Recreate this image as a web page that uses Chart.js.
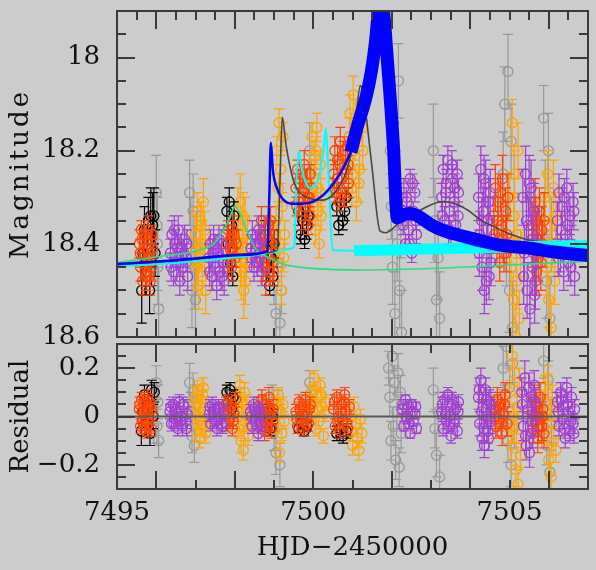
<!DOCTYPE html>
<html>
<head>
<meta charset="utf-8">
<script src="https://cdn.jsdelivr.net/npm/chart.js@4.4.0/dist/chart.umd.min.js"></script>
<style>
  html, body { margin: 0; padding: 0; background: #cccccc; }
  #wrap { position: relative; width: 596px; height: 570px; }
  #wrap canvas { position: absolute; left: 0; top: 0; }
</style>
</head>
<body>
<div id="wrap">
  <canvas id="lightcurve" width="596" height="570"></canvas>
  <canvas id="residuals" width="596" height="570"></canvas>
</div>
<script>
// photometry: [HJD-2450000, magnitude, error]
const magBlack = [
  [7495.63,18.50,0.07],[7495.66,18.42,0.06],[7495.70,18.37,0.05],[7495.73,18.46,0.05],[7495.77,18.40,0.04],[7495.80,18.35,0.05],
  [7495.83,18.50,0.05],[7495.86,18.34,0.06],[7495.88,18.44,0.05],[7495.91,18.36,0.07],[7495.94,18.34,0.06],[7495.97,18.42,0.05],
  [7497.80,18.33,0.03],[7497.83,18.40,0.03],[7497.86,18.31,0.03],[7497.89,18.44,0.03],[7497.92,18.36,0.03],[7497.95,18.47,0.02],[7497.98,18.34,0.03],
  [7498.77,18.38,0.03],[7498.81,18.45,0.03],[7498.85,18.41,0.03],[7498.89,18.49,0.02],[7498.93,18.43,0.03],[7498.97,18.47,0.02],[7499.00,18.40,0.03],
  [7499.63,18.33,0.03],[7499.68,18.38,0.02],[7499.73,18.35,0.03],[7499.78,18.39,0.02],[7499.83,18.36,0.03],[7499.87,18.34,0.02],
  [7500.60,18.32,0.02],[7500.65,18.36,0.02],[7500.70,18.31,0.02],[7500.75,18.35,0.02],[7500.80,18.33,0.02],[7500.84,18.30,0.02]
];
const magRed = [
  [7495.57,18.40,0.03],[7495.60,18.45,0.03],[7495.62,18.37,0.02],[7495.65,18.48,0.03],[7495.68,18.42,0.02],[7495.70,18.38,0.03],
  [7495.72,18.46,0.02],[7495.75,18.41,0.03],[7495.77,18.44,0.02],[7495.80,18.37,0.03],[7495.82,18.47,0.02],[7495.84,18.43,0.03],
  [7495.86,18.39,0.02],[7495.88,18.45,0.03],[7495.90,18.41,0.02],
  [7495.59,18.42,0.03],[7495.64,18.39,0.02],[7495.74,18.47,0.03],[7495.79,18.43,0.02],[7495.85,18.48,0.03],[7495.89,18.38,0.02],
  [7497.80,18.40,0.03],[7497.83,18.37,0.02],[7497.86,18.43,0.03],[7497.89,18.39,0.02],[7497.92,18.45,0.03],[7497.95,18.41,0.02],
  [7497.98,18.38,0.03],[7498.01,18.43,0.02],[7498.04,18.40,0.03],
  [7497.82,18.44,0.03],[7497.88,18.41,0.02],[7497.94,18.37,0.03],[7498.00,18.39,0.02],
  [7498.64,18.40,0.04],[7498.68,18.35,0.03],[7498.72,18.45,0.03],[7498.75,18.38,0.04],[7498.79,18.48,0.03],[7498.82,18.42,0.03],
  [7498.86,18.36,0.04],[7498.89,18.46,0.03],[7498.93,18.40,0.03],[7498.96,18.44,0.04],[7498.99,18.38,0.03],
  [7498.66,18.42,0.03],[7498.74,18.44,0.03],[7498.84,18.39,0.03],[7498.91,18.35,0.03],[7498.98,18.46,0.03],
  [7499.56,18.28,0.03],[7499.60,18.24,0.02],[7499.63,18.31,0.03],[7499.67,18.26,0.02],[7499.70,18.34,0.03],[7499.74,18.29,0.02],
  [7499.77,18.23,0.03],[7499.80,18.32,0.02],[7499.84,18.27,0.03],[7499.87,18.36,0.02],[7499.90,18.30,0.03],[7499.92,18.25,0.02],
  [7499.58,18.32,0.02],[7499.65,18.27,0.02],[7499.72,18.25,0.02],[7499.79,18.28,0.02],[7499.86,18.30,0.02],[7499.91,18.34,0.02],
  [7500.52,18.25,0.03],[7500.55,18.20,0.03],[7500.59,18.29,0.02],[7500.62,18.22,0.03],[7500.66,18.31,0.02],[7500.69,18.18,0.03],
  [7500.73,18.26,0.02],[7500.76,18.21,0.03],[7500.80,18.30,0.02],[7500.83,18.24,0.03],[7500.87,18.19,0.02],[7500.90,18.27,0.03],
  [7500.54,18.28,0.02],[7500.61,18.26,0.02],[7500.68,18.23,0.02],[7500.75,18.29,0.02],[7500.82,18.20,0.02],[7500.89,18.23,0.02],
  [7504.60,18.34,0.04],[7504.64,18.28,0.05],[7504.68,18.40,0.04],[7504.71,18.31,0.05],[7504.75,18.44,0.04],[7504.79,18.36,0.05],
  [7504.82,18.26,0.05],[7504.86,18.42,0.04],[7504.90,18.33,0.05],[7504.93,18.38,0.04],[7504.96,18.30,0.05],
  [7504.62,18.38,0.04],[7504.70,18.35,0.05],[7504.77,18.29,0.04],[7504.84,18.39,0.05],[7504.92,18.42,0.04],
  [7505.58,18.36,0.05],[7505.62,18.42,0.06],[7505.65,18.31,0.05],[7505.69,18.46,0.05],[7505.72,18.38,0.06],[7505.76,18.33,0.05],
  [7505.80,18.44,0.06],[7505.84,18.40,0.05],[7505.88,18.35,0.06],
  [7505.60,18.39,0.05],[7505.67,18.35,0.05],[7505.74,18.43,0.05],[7505.82,18.37,0.05]
];
const magOrange = [
  [7496.99,18.38,0.04],[7497.02,18.45,0.05],[7497.05,18.33,0.04],[7497.08,18.49,0.05],[7497.11,18.41,0.04],[7497.14,18.36,0.05],
  [7497.17,18.47,0.04],[7497.20,18.31,0.05],[7497.23,18.43,0.04],[7497.26,18.50,0.05],
  [7497.00,18.41,0.04],[7497.06,18.44,0.05],[7497.12,18.35,0.04],[7497.18,18.40,0.05],[7497.24,18.37,0.04],
  [7498.08,18.33,0.05],[7498.11,18.42,0.05],[7498.14,18.31,0.06],[7498.17,18.47,0.05],[7498.20,18.38,0.05],[7498.23,18.50,0.06],
  [7498.26,18.35,0.05],[7498.29,18.44,0.05],[7498.32,18.40,0.06],
  [7498.09,18.38,0.05],[7498.15,18.44,0.05],[7498.21,18.34,0.05],[7498.27,18.48,0.05],
  [7499.05,18.35,0.03],[7499.07,18.20,0.03],[7499.09,18.45,0.03],[7499.11,18.28,0.03],[7499.13,18.14,0.03],[7499.15,18.40,0.03],
  [7499.17,18.24,0.03],[7499.19,18.50,0.03],[7499.21,18.32,0.03],[7499.23,18.17,0.03],[7499.25,18.43,0.03],[7499.27,18.38,0.03],
  [7499.94,18.25,0.03],[7499.97,18.17,0.03],[7500.00,18.32,0.03],[7500.03,18.21,0.03],[7500.06,18.37,0.03],[7500.09,18.15,0.03],
  [7500.12,18.28,0.03],[7500.15,18.40,0.03],[7500.18,18.23,0.03],[7500.20,18.34,0.03],
  [7499.95,18.30,0.03],[7500.01,18.26,0.03],[7500.07,18.20,0.03],[7500.13,18.33,0.03],[7500.19,18.29,0.03],
  [7500.90,18.22,0.04],[7500.94,18.12,0.04],[7500.98,18.28,0.04],[7501.02,18.08,0.04],[7501.06,18.18,0.04],[7501.10,18.31,0.04],
  [7501.14,18.14,0.04],[7501.18,18.24,0.04],[7501.22,18.10,0.04],[7501.26,18.20,0.04],
  [7500.92,18.17,0.04],[7501.00,18.25,0.04],[7501.08,18.13,0.04],[7501.16,18.27,0.04],[7501.24,18.15,0.04],
  [7505.01,18.30,0.05],[7505.04,18.45,0.06],[7505.07,18.14,0.05],[7505.10,18.52,0.06],[7505.13,18.25,0.05],[7505.16,18.60,0.07],
  [7505.19,18.38,0.05],[7505.22,18.20,0.06],[7505.25,18.56,0.06],[7505.28,18.42,0.05],[7505.12,18.34,0.05],[7505.18,18.48,0.06],
  [7505.91,18.30,0.05],[7505.94,18.45,0.06],[7505.97,18.25,0.05],[7506.00,18.52,0.06],[7506.03,18.36,0.05],[7506.06,18.58,0.06],
  [7506.09,18.40,0.05],[7506.12,18.28,0.06],[7506.15,18.48,0.05],[7506.18,18.34,0.05]
];
const magPurple = [
  [7496.36,18.42,0.03],[7496.40,18.38,0.03],[7496.44,18.46,0.03],[7496.48,18.40,0.03],[7496.52,18.44,0.04],[7496.56,18.37,0.03],
  [7496.60,18.48,0.03],[7496.64,18.41,0.03],[7496.68,18.45,0.04],[7496.72,18.39,0.03],[7496.76,18.43,0.03],[7496.80,18.47,0.03],
  [7496.38,18.45,0.03],[7496.46,18.37,0.03],[7496.54,18.41,0.03],[7496.62,18.44,0.03],[7496.70,18.42,0.03],[7496.78,18.40,0.03],
  [7497.34,18.43,0.03],[7497.38,18.40,0.03],[7497.42,18.47,0.03],[7497.46,18.39,0.03],[7497.50,18.45,0.03],[7497.54,18.49,0.03],
  [7497.58,18.42,0.03],[7497.62,18.46,0.03],[7497.66,18.40,0.03],[7497.70,18.44,0.03],[7497.73,18.48,0.03],
  [7497.36,18.46,0.03],[7497.44,18.42,0.03],[7497.52,18.41,0.03],[7497.60,18.39,0.03],[7497.68,18.47,0.03],
  [7498.41,18.41,0.03],[7498.45,18.38,0.03],[7498.49,18.45,0.03],[7498.53,18.40,0.03],[7498.57,18.44,0.03],[7498.61,18.37,0.03],
  [7498.65,18.43,0.03],[7498.69,18.46,0.03],
  [7498.43,18.43,0.03],[7498.51,18.42,0.03],[7498.59,18.40,0.03],[7498.67,18.39,0.03],
  [7502.27,18.34,0.02],[7502.31,18.28,0.02],[7502.35,18.40,0.02],[7502.39,18.31,0.02],[7502.43,18.37,0.02],[7502.47,18.26,0.02],
  [7502.51,18.42,0.02],[7502.55,18.33,0.02],[7502.59,18.29,0.02],[7502.63,18.38,0.02],
  [7502.29,18.36,0.02],[7502.37,18.30,0.02],[7502.45,18.40,0.02],[7502.53,18.27,0.02],[7502.61,18.35,0.02],
  [7503.27,18.30,0.03],[7503.31,18.24,0.03],[7503.35,18.35,0.03],[7503.39,18.27,0.03],[7503.43,18.22,0.03],[7503.47,18.33,0.03],
  [7503.51,18.38,0.03],[7503.55,18.26,0.03],[7503.59,18.31,0.03],[7503.63,18.36,0.03],[7503.67,18.25,0.03],[7503.70,18.29,0.03],
  [7503.29,18.34,0.03],[7503.37,18.29,0.03],[7503.45,18.37,0.03],[7503.53,18.23,0.03],[7503.61,18.28,0.03],[7503.69,18.34,0.03],
  [7504.21,18.30,0.05],[7504.24,18.38,0.05],[7504.27,18.24,0.05],[7504.30,18.45,0.05],[7504.33,18.33,0.05],[7504.36,18.50,0.05],
  [7504.39,18.27,0.05],[7504.42,18.41,0.05],[7504.45,18.35,0.05],[7504.48,18.47,0.05],[7504.51,18.29,0.05],[7504.54,18.39,0.05],
  [7504.23,18.42,0.05],[7504.29,18.35,0.05],[7504.35,18.26,0.05],[7504.41,18.48,0.05],[7504.47,18.31,0.05],[7504.53,18.44,0.05],
  [7505.34,18.30,0.06],[7505.38,18.42,0.06],[7505.41,18.25,0.06],[7505.45,18.50,0.06],[7505.48,18.36,0.06],[7505.52,18.54,0.06],
  [7505.55,18.28,0.06],[7505.59,18.45,0.06],[7505.62,18.33,0.06],[7505.66,18.48,0.06],[7505.69,18.39,0.06],
  [7505.36,18.47,0.06],[7505.43,18.35,0.06],[7505.50,18.27,0.06],[7505.57,18.39,0.06],[7505.64,18.51,0.06],
  [7506.22,18.35,0.04],[7506.26,18.29,0.04],[7506.30,18.42,0.04],[7506.34,18.32,0.04],[7506.38,18.46,0.04],[7506.42,18.38,0.04],
  [7506.46,18.28,0.04],[7506.50,18.44,0.04],[7506.54,18.34,0.04],[7506.58,18.40,0.04],[7506.62,18.31,0.04],[7506.66,18.47,0.04],
  [7506.24,18.43,0.04],[7506.32,18.37,0.04],[7506.40,18.30,0.04],[7506.48,18.36,0.04],[7506.56,18.45,0.04],[7506.64,18.33,0.04]
];
const magGray = [
  [7496.00,18.29,0.08],[7496.02,18.36,0.07],[7496.04,18.45,0.08],[7496.06,18.54,0.09],[7496.03,18.40,0.10],
  [7496.85,18.29,0.07],[7496.88,18.38,0.08],[7496.91,18.50,0.08],[7496.94,18.33,0.08],[7496.97,18.45,0.09],[7497.00,18.52,0.08],[7497.02,18.41,0.08],
  [7498.95,18.40,0.05],[7499.00,18.48,0.05],[7499.05,18.55,0.05],[7499.10,18.44,0.05],[7499.15,18.57,0.04],[7499.19,18.50,0.05],
  [7499.91,18.20,0.06],[7499.96,18.28,0.06],
  [7501.96,18.20,0.08],[7501.99,18.32,0.07],[7502.02,18.45,0.08],[7502.05,18.14,0.08],[7502.08,18.55,0.09],[7502.11,18.27,0.07],
  [7502.14,18.40,0.08],[7502.17,18.05,0.08],[7502.20,18.50,0.08],[7502.23,18.36,0.07],[7502.25,18.59,0.09],
  [7503.06,18.20,0.10],[7503.10,18.35,0.09],[7503.14,18.52,0.10],[7503.18,18.43,0.09],[7503.22,18.56,0.10],
  [7504.84,18.25,0.09],[7504.88,18.10,0.08],[7504.92,18.40,0.09],[7504.96,18.03,0.08],[7505.00,18.50,0.09],[7505.04,18.18,0.08],
  [7505.08,18.58,0.10],[7505.12,18.30,0.09],
  [7505.87,18.13,0.07],[7505.91,18.30,0.08],[7505.95,18.48,0.08],[7505.99,18.20,0.08],[7506.03,18.56,0.09],[7506.07,18.38,0.08]
];

// residuals from the best model: [HJD-2450000, residual, error]
const resBlack = [
  [7495.62,-0.06,0.06],[7495.66,0.02,0.05],[7495.70,0.09,0.04],[7495.75,-0.03,0.05],[7495.80,0.05,0.04],[7495.84,-0.07,0.05],
  [7495.88,0.11,0.04],[7495.92,0.00,0.05],[7495.95,0.10,0.04],
  [7497.80,0.10,0.03],[7497.84,0.06,0.03],[7497.88,0.11,0.03],[7497.92,0.03,0.03],[7497.96,0.08,0.03],
  [7498.78,-0.03,0.03],[7498.84,0.02,0.03],[7498.90,-0.05,0.03],[7498.96,0.00,0.03],
  [7499.63,-0.05,0.02],[7499.70,-0.03,0.02],[7499.77,-0.06,0.02],[7499.84,-0.04,0.02],
  [7500.60,-0.07,0.03],[7500.68,-0.05,0.03],[7500.76,-0.08,0.03],[7500.84,-0.06,0.03]
];
const resRed = [
  [7495.57,0.03,0.03],[7495.60,-0.04,0.03],[7495.63,0.07,0.03],[7495.66,-0.01,0.03],[7495.69,0.05,0.03],[7495.72,-0.06,0.03],
  [7495.75,0.02,0.03],[7495.78,0.08,0.03],[7495.81,-0.03,0.03],[7495.84,0.04,0.03],[7495.87,-0.05,0.03],[7495.90,0.01,0.03],
  [7495.58,0.05,0.03],[7495.64,-0.02,0.03],[7495.70,0.02,0.03],[7495.76,-0.04,0.03],[7495.82,0.06,0.03],[7495.88,0.03,0.03],
  [7497.76,0.02,0.03],[7497.79,-0.03,0.03],[7497.83,0.06,0.03],[7497.86,-0.01,0.03],[7497.90,0.04,0.03],[7497.94,-0.05,0.03],
  [7497.98,0.01,0.03],[7498.02,0.07,0.03],
  [7497.78,0.05,0.03],[7497.88,0.01,0.03],[7497.96,-0.02,0.03],
  [7498.61,0.04,0.04],[7498.65,-0.03,0.04],[7498.69,0.07,0.04],[7498.72,0.00,0.04],[7498.76,-0.06,0.04],[7498.80,0.05,0.04],
  [7498.84,-0.02,0.04],[7498.87,0.08,0.04],[7498.91,0.01,0.04],[7498.94,-0.05,0.04],[7498.98,0.03,0.04],
  [7498.63,0.01,0.04],[7498.71,0.05,0.04],[7498.79,-0.04,0.04],[7498.89,0.03,0.04],[7498.96,-0.02,0.04],
  [7499.56,0.02,0.03],[7499.60,-0.04,0.03],[7499.64,0.06,0.03],[7499.68,-0.01,0.03],[7499.72,0.04,0.03],[7499.76,-0.05,0.03],
  [7499.80,0.07,0.03],[7499.84,0.00,0.03],[7499.88,-0.03,0.03],[7499.92,0.05,0.03],
  [7499.58,-0.01,0.03],[7499.66,0.03,0.03],[7499.74,0.01,0.03],[7499.82,-0.03,0.03],[7499.90,0.03,0.03],
  [7500.52,0.03,0.03],[7500.56,-0.04,0.03],[7500.60,0.08,0.03],[7500.64,0.00,0.03],[7500.68,-0.06,0.03],[7500.72,0.05,0.03],
  [7500.76,-0.02,0.03],[7500.80,0.09,0.03],[7500.84,0.02,0.03],[7500.88,-0.05,0.03],[7500.92,0.04,0.03],
  [7500.54,0.06,0.03],[7500.62,-0.02,0.03],[7500.70,0.02,0.03],[7500.78,0.06,0.03],[7500.86,-0.03,0.03],
  [7504.61,0.03,0.05],[7504.65,-0.04,0.05],[7504.69,0.07,0.05],[7504.73,-0.01,0.05],[7504.77,0.05,0.05],[7504.81,-0.07,0.05],
  [7504.85,0.01,0.05],[7504.89,0.09,0.05],[7504.94,-0.03,0.05],
  [7504.63,0.00,0.05],[7504.71,0.04,0.05],[7504.79,-0.03,0.05],[7504.87,0.05,0.05],
  [7505.57,0.02,0.06],[7505.60,-0.05,0.06],[7505.63,0.07,0.06],[7505.66,-0.02,0.06],[7505.69,0.04,0.06],[7505.72,-0.09,0.06],
  [7505.75,0.00,0.06],[7505.78,0.08,0.06],[7505.82,-0.04,0.06],[7505.85,0.03,0.06],[7505.88,-0.07,0.06],
  [7505.59,0.01,0.06],[7505.67,0.05,0.06],[7505.74,-0.05,0.06],[7505.84,0.00,0.06]
];
const resOrange = [
  [7496.99,0.05,0.04],[7497.02,-0.06,0.04],[7497.05,0.11,0.04],[7497.08,0.00,0.04],[7497.11,-0.09,0.04],[7497.14,0.07,0.04],
  [7497.17,-0.03,0.04],[7497.20,0.12,0.04],[7497.23,0.02,0.04],[7497.26,-0.07,0.04],
  [7497.00,0.08,0.04],[7497.06,-0.02,0.04],[7497.12,0.04,0.04],[7497.18,0.09,0.04],[7497.24,-0.04,0.04],
  [7498.07,0.08,0.04],[7498.10,-0.05,0.04],[7498.13,0.13,0.04],[7498.16,-0.10,0.05],[7498.19,0.03,0.04],[7498.22,-0.14,0.04],
  [7498.25,0.10,0.04],[7498.28,-0.02,0.04],[7498.31,0.05,0.04],[7498.34,-0.08,0.04],
  [7498.09,0.02,0.04],[7498.17,0.06,0.04],[7498.24,-0.05,0.04],[7498.32,0.00,0.04],
  [7499.05,0.06,0.03],[7499.08,-0.04,0.03],[7499.11,0.09,0.03],[7499.14,-0.15,0.04],[7499.17,0.02,0.03],[7499.20,-0.07,0.03],
  [7499.23,0.05,0.03],[7499.26,-0.02,0.03],
  [7499.94,0.10,0.03],[7499.98,0.02,0.03],[7500.02,0.16,0.03],[7500.06,-0.05,0.03],[7500.10,0.08,0.03],[7500.14,-0.02,0.03],
  [7500.18,0.13,0.03],[7500.22,0.04,0.03],[7500.26,-0.08,0.03],[7500.30,0.06,0.03],
  [7499.96,0.06,0.03],[7500.04,0.11,0.03],[7500.12,0.03,0.03],[7500.20,0.09,0.03],[7500.28,0.01,0.03],
  [7500.92,0.02,0.04],[7500.96,-0.06,0.04],[7501.00,-0.12,0.04],[7501.04,0.04,0.04],[7501.08,-0.03,0.04],[7501.12,-0.09,0.04],
  [7501.16,-0.14,0.04],[7501.20,-0.01,0.04],[7501.24,-0.07,0.04],
  [7505.01,0.10,0.05],[7505.04,-0.12,0.06],[7505.07,0.25,0.05],[7505.10,-0.05,0.06],[7505.13,0.18,0.05],[7505.16,-0.22,0.07],
  [7505.19,0.04,0.05],[7505.22,-0.28,0.06],[7505.25,0.14,0.06],[7505.28,-0.16,0.05],[7505.12,0.00,0.05],[7505.18,-0.09,0.06],
  [7505.91,0.12,0.05],[7505.94,-0.05,0.06],[7505.97,0.16,0.05],[7506.00,-0.18,0.06],[7506.03,0.03,0.05],[7506.06,-0.25,0.06],
  [7506.09,0.08,0.05],[7506.12,-0.10,0.06],[7506.15,0.00,0.05],[7506.18,-0.14,0.05]
];
const resPurple = [
  [7496.35,0.02,0.03],[7496.39,-0.03,0.03],[7496.43,0.05,0.03],[7496.47,-0.01,0.03],[7496.51,0.03,0.03],[7496.55,-0.05,0.03],
  [7496.59,0.06,0.03],[7496.63,0.00,0.03],[7496.67,-0.04,0.04],[7496.71,0.04,0.03],[7496.75,-0.02,0.03],[7496.79,0.01,0.03],
  [7496.37,0.04,0.03],[7496.45,-0.03,0.03],[7496.53,0.01,0.03],[7496.61,-0.02,0.03],[7496.69,0.05,0.03],[7496.77,-0.05,0.03],
  [7497.35,0.01,0.03],[7497.39,-0.03,0.03],[7497.43,0.05,0.03],[7497.47,-0.01,0.03],[7497.51,0.03,0.03],[7497.55,-0.05,0.03],
  [7497.59,0.04,0.03],[7497.63,0.00,0.03],[7497.67,-0.03,0.03],[7497.71,0.02,0.03],
  [7497.37,0.04,0.03],[7497.45,0.02,0.03],[7497.53,-0.02,0.03],[7497.61,0.03,0.03],[7497.69,-0.04,0.03],
  [7498.40,0.02,0.03],[7498.44,-0.04,0.03],[7498.48,0.05,0.03],[7498.52,-0.02,0.03],[7498.56,0.01,0.03],[7498.60,-0.07,0.03],
  [7498.64,0.03,0.03],[7498.68,-0.03,0.03],
  [7498.42,0.00,0.03],[7498.50,0.03,0.03],[7498.58,-0.04,0.03],[7498.66,0.01,0.03],
  [7502.27,0.03,0.02],[7502.31,-0.04,0.02],[7502.35,0.07,0.02],[7502.39,-0.01,0.02],[7502.43,0.04,0.02],[7502.47,-0.07,0.02],
  [7502.51,0.05,0.02],[7502.55,-0.02,0.02],[7502.59,0.01,0.02],[7502.63,-0.05,0.02],
  [7502.29,0.05,0.02],[7502.37,0.00,0.02],[7502.45,-0.03,0.02],[7502.53,0.02,0.02],[7502.61,0.04,0.02],
  [7503.27,0.02,0.03],[7503.31,-0.05,0.03],[7503.35,0.07,0.03],[7503.39,-0.02,0.03],[7503.43,0.09,0.03],[7503.47,0.00,0.03],
  [7503.51,-0.08,0.03],[7503.55,0.05,0.03],[7503.59,-0.03,0.03],[7503.63,0.03,0.03],[7503.67,-0.06,0.03],[7503.70,0.06,0.03],
  [7503.29,0.05,0.03],[7503.37,0.01,0.03],[7503.45,-0.04,0.03],[7503.53,0.07,0.03],[7503.61,-0.01,0.03],[7503.69,0.02,0.03],
  [7504.21,0.08,0.05],[7504.24,-0.03,0.05],[7504.27,0.15,0.05],[7504.30,-0.09,0.05],[7504.33,0.04,0.05],[7504.36,-0.12,0.05],
  [7504.39,0.11,0.05],[7504.42,0.00,0.05],[7504.45,-0.06,0.05],[7504.48,0.06,0.05],[7504.51,-0.02,0.05],[7504.54,0.02,0.05],
  [7504.23,0.11,0.05],[7504.29,0.02,0.05],[7504.35,-0.05,0.05],[7504.41,0.07,0.05],[7504.47,-0.09,0.05],[7504.53,0.05,0.05],
  [7505.31,0.10,0.06],[7505.35,-0.04,0.06],[7505.39,0.16,0.07],[7505.43,-0.12,0.06],[7505.47,0.03,0.06],[7505.51,-0.15,0.06],
  [7505.55,0.08,0.06],[7505.59,-0.07,0.06],[7505.63,0.13,0.06],[7505.67,0.00,0.06],
  [7505.33,0.05,0.06],[7505.41,-0.08,0.06],[7505.49,0.12,0.06],[7505.57,-0.02,0.06],[7505.65,0.06,0.06],
  [7506.22,0.06,0.04],[7506.26,-0.04,0.04],[7506.30,0.10,0.04],[7506.34,-0.01,0.04],[7506.38,0.04,0.04],[7506.42,-0.09,0.04],
  [7506.46,0.12,0.04],[7506.50,0.02,0.04],[7506.54,-0.06,0.04],[7506.58,0.08,0.04],[7506.62,-0.03,0.04],[7506.66,0.03,0.04],
  [7506.24,0.02,0.04],[7506.32,0.07,0.04],[7506.40,-0.05,0.04],[7506.48,0.05,0.04],[7506.56,-0.02,0.04],[7506.64,-0.07,0.04]
];
const resGray = [
  [7496.00,0.14,0.07],[7496.02,-0.04,0.07],[7496.04,0.06,0.07],[7496.06,-0.10,0.07],
  [7496.85,0.14,0.08],[7496.88,0.02,0.08],[7496.91,-0.08,0.07],[7496.94,0.10,0.08],[7496.97,-0.12,0.07],[7497.00,0.05,0.08],
  [7498.95,0.06,0.07],[7499.00,-0.06,0.08],[7499.05,-0.15,0.09],[7499.10,0.03,0.08],[7499.15,-0.20,0.09],
  [7499.91,0.14,0.05],[7499.96,0.05,0.06],
  [7501.92,0.20,0.07],[7501.95,0.08,0.08],[7501.98,-0.10,0.08],[7502.01,0.25,0.06],[7502.04,-0.04,0.08],[7502.07,0.14,0.07],
  [7502.10,-0.18,0.08],[7502.13,0.02,0.07],[7502.16,0.18,0.08],[7502.19,-0.21,0.08],[7502.22,0.10,0.07],[7502.24,-0.07,0.08],
  [7503.06,0.11,0.09],[7503.10,-0.05,0.08],[7503.14,-0.16,0.09],[7503.18,0.02,0.08],[7503.22,-0.25,0.09],
  [7504.84,0.20,0.09],[7504.88,0.05,0.08],[7504.92,0.29,0.08],[7504.96,-0.10,0.09],[7505.00,0.12,0.08],[7505.04,-0.20,0.09],
  [7505.08,0.22,0.08],[7505.12,-0.04,0.09],
  [7505.87,0.23,0.07],[7505.91,0.06,0.08],[7505.95,-0.12,0.08],[7505.99,0.15,0.08],[7506.03,-0.23,0.09],[7506.07,-0.03,0.08]
];

// model light curves: [HJD-2450000, magnitude]
const blueModelThin = [
  [7495.0,18.443],[7496.5,18.435],[7498.17,18.424],[7498.83,18.415],[7498.88,18.30],[7498.92,18.183],[7498.97,18.241],
  [7499.09,18.284],[7499.31,18.31],[7499.52,18.314],[7499.9,18.312],[7500.33,18.289],[7500.74,18.241],[7500.96,18.203]
];
const blueModelThick = [
  [7500.96,18.203],[7501.15,18.14],[7501.33,18.09],[7501.48,18.03],[7501.58,17.97],[7501.66,17.90],[7501.72,17.87],
  [7501.79,17.90],[7501.89,18.007],[7502.04,18.186],[7502.14,18.344],[7502.28,18.338],[7502.46,18.335],[7502.7,18.342],
  [7503.02,18.36],[7503.4,18.374],[7503.88,18.385],[7504.3,18.394],[7504.72,18.402],[7505.56,18.41],[7506.2,18.418],[7507.0,18.425]
];
const cyanModelThin = [
  [7495.0,18.448],[7496.5,18.441],[7498.12,18.428],[7499.0,18.418],[7499.45,18.41],[7499.52,18.404],[7499.56,18.29],
  [7499.63,18.202],[7499.70,18.235],[7499.78,18.262],[7499.86,18.277],[7499.94,18.28],[7500.05,18.272],[7500.15,18.256],
  [7500.24,18.21],[7500.28,18.184],[7500.32,18.152],[7500.37,18.22],[7500.41,18.29],[7500.49,18.413],[7500.7,18.414],[7501.04,18.415]
];
const cyanModelThick = [
  [7501.04,18.415],[7502.0,18.413],[7503.0,18.411],[7504.0,18.409],[7505.0,18.407],[7506.0,18.405],[7507.0,18.404]
];
const grayModel = [
  [7495.0,18.445],[7497.0,18.433],[7498.5,18.421],[7499.08,18.414],[7499.13,18.33],[7499.17,18.21],[7499.21,18.128],
  [7499.31,18.19],[7499.52,18.27],[7499.81,18.299],[7500.24,18.306],[7500.55,18.29],[7500.83,18.248],[7501.0,18.19],
  [7501.1,18.12],[7501.2,18.06],[7501.28,18.083],[7501.49,18.23],[7501.70,18.372],[7501.85,18.376],[7502.05,18.365],
  [7502.3,18.345],[7502.61,18.333],[7502.95,18.318],[7503.3,18.309],[7503.65,18.315],[7503.96,18.329],[7504.29,18.35],
  [7504.65,18.365],[7504.98,18.378],[7505.4,18.39],[7505.78,18.396],[7506.4,18.41],[7507.0,18.418]
];
const greenModel = [
  [7495.0,18.44],[7496.09,18.427],[7497.11,18.413],[7497.49,18.398],[7497.72,18.37],[7497.87,18.344],[7498.0,18.32],
  [7498.12,18.332],[7498.3,18.37],[7498.55,18.413],[7498.88,18.43],[7499.14,18.441],[7499.64,18.45],[7501.29,18.456],
  [7504.34,18.448],[7507.0,18.437]
];
const zeroLine = [[7495, 0], [7507, 0]];

// axis labels
const magTickLabels = [18, 18.2, 18.4, 18.6];
const resTickLabels = [0.2, 0, -0.2];
const hjdTickLabels = [7495, 7500, 7505];

const SERIF = "'DejaVu Serif', 'Liberation Serif', serif";
const INK = '#111111';
const FRAME = '#3a3a3a';

Chart.defaults.font.family = SERIF;
Chart.defaults.color = INK;

const toXY = rows => rows.map(r => ({ x: r[0], y: r[1] }));

function pointSet(rows, color, order) {
  return {
    data: toXY(rows),
    errors: rows.map(r => r[2]),
    borderColor: color,
    backgroundColor: 'rgba(0,0,0,0)',
    pointRadius: 5,
    pointHoverRadius: 5,
    pointBorderWidth: 1.3,
    showLine: false,
    clip: 0,
    order: order
  };
}

function curveSet(rows, color, width, order) {
  return {
    data: toXY(rows),
    borderColor: color,
    backgroundColor: color,
    borderWidth: width,
    pointRadius: 0,
    pointHoverRadius: 0,
    showLine: true,
    cubicInterpolationMode: 'monotone',
    borderCapStyle: 'butt',
    borderJoinStyle: 'round',
    clip: 0,
    order: order
  };
}

// error bars with caps, drawn just before each dataset's circles
const errorBars = {
  id: 'errorBars',
  beforeDatasetDraw(chart, args) {
    const ds = chart.data.datasets[args.index];
    if (!ds.errors) return;
    const { ctx, chartArea: a, scales: { x, y } } = chart;
    ctx.save();
    ctx.beginPath();
    ctx.rect(a.left, a.top, a.width, a.height);
    ctx.clip();
    ctx.strokeStyle = ds.borderColor;
    ctx.lineWidth = 1.2;
    ctx.beginPath();
    ds.data.forEach((p, i) => {
      const e = ds.errors[i];
      const px = x.getPixelForValue(p.x);
      const y1 = y.getPixelForValue(p.y - e);
      const y2 = y.getPixelForValue(p.y + e);
      ctx.moveTo(px, y1); ctx.lineTo(px, y2);
      ctx.moveTo(px - 5, y1); ctx.lineTo(px + 5, y1);
      ctx.moveTo(px - 5, y2); ctx.lineTo(px + 5, y2);
    });
    ctx.stroke();
    ctx.restore();
  }
};

// box frame with inward tick marks on all four sides
const frameTicks = {
  id: 'frameTicks',
  afterDatasetsDraw(chart, args, opts) {
    const { ctx, chartArea: a, scales: { x, y } } = chart;
    const marks = (min, max, step, major) => {
      const out = [];
      const n = Math.round((max - min) / step);
      for (let i = 1; i < n; i++) {
        const v = min + i * step;
        const q = v / major;
        out.push([v, Math.abs(q - Math.round(q)) < 1e-6]);
      }
      return out;
    };
    ctx.save();
    ctx.strokeStyle = FRAME;
    ctx.lineWidth = 2;
    ctx.beginPath();
    marks(x.min, x.max, opts.xStep, opts.xMajor).forEach(([v, big]) => {
      const px = Math.round(x.getPixelForValue(v));
      const len = big ? 18 : 9;
      ctx.moveTo(px, a.bottom); ctx.lineTo(px, a.bottom - len);
      ctx.moveTo(px, a.top); ctx.lineTo(px, a.top + len);
    });
    marks(y.min, y.max, opts.yStep, opts.yMajor).forEach(([v, big]) => {
      const py = Math.round(y.getPixelForValue(v));
      const len = big ? 18 : 9;
      ctx.moveTo(a.left, py); ctx.lineTo(a.left + len, py);
      ctx.moveTo(a.right, py); ctx.lineTo(a.right - len, py);
    });
    ctx.stroke();
    ctx.strokeRect(a.left, a.top, a.width, a.height);
    ctx.restore();
  }
};

// wider letter spacing for the rotated axis title only (tick labels sit on a later layer)
const titleSpacing = {
  id: 'titleSpacing',
  beforeDraw(chart, args, opts) { chart.ctx.letterSpacing = opts.spacing || '0px'; },
  beforeDatasetsDraw(chart) { chart.ctx.letterSpacing = '0px'; }
};

const yAxisFit = s => {
  s.width = 117;
  s.paddingTop = 0; s.paddingBottom = 0; s.paddingLeft = 0; s.paddingRight = 0;
};

new Chart(document.getElementById('lightcurve'), {
  type: 'scatter',
  data: {
    datasets: [
      curveSet(blueModelThick, '#0000ff', 13, 0),
      curveSet(cyanModelThick, '#00ffff', 11, 1),
      curveSet(blueModelThin, '#0000ff', 2.5, 2),
      curveSet(grayModel, '#474747', 1.6, 3),
      curveSet(cyanModelThin, '#00ffff', 2, 4),
      curveSet(greenModel, '#2fdc80', 1.6, 5),
      pointSet(magPurple, '#a040d0', 10),
      pointSet(magRed, '#ff4500', 11),
      pointSet(magBlack, '#000000', 12),
      pointSet(magOrange, '#ffa500', 13),
      pointSet(magGray, '#999999', 14)
    ]
  },
  options: {
    responsive: false,
    animation: false,
    events: [],
    layout: { padding: { left: 0, top: 11, right: 8, bottom: 233 } },
    plugins: {
      legend: { display: false },
      tooltip: { enabled: false },
      frameTicks: { xStep: 0.5, xMajor: 2, yStep: 0.05, yMajor: 0.2 },
      titleSpacing: { spacing: '3px' }
    },
    scales: {
      x: { type: 'linear', min: 7495, max: 7507, display: false },
      y: {
        type: 'linear', reverse: true, min: 17.9, max: 18.6,
        afterBuildTicks: s => { s.ticks = magTickLabels.map(v => ({ value: v })); },
        afterFit: yAxisFit,
        grid: { display: false, drawTicks: false },
        border: { display: false },
        ticks: { z: 1, padding: 17, color: INK, font: { size: 26 }, callback: v => String(+v.toFixed(1)) },
        title: { display: true, text: 'Magnitude', color: INK, font: { size: 26 }, padding: { top: 6 } }
      }
    }
  },
  plugins: [errorBars, frameTicks, titleSpacing]
});

new Chart(document.getElementById('residuals'), {
  type: 'scatter',
  data: {
    datasets: [
      curveSet(zeroLine, '#5a5a5a', 2, 0),
      pointSet(resPurple, '#a040d0', 10),
      pointSet(resRed, '#ff4500', 11),
      pointSet(resBlack, '#000000', 12),
      pointSet(resOrange, '#ffa500', 13),
      pointSet(resGray, '#999999', 14)
    ]
  },
  options: {
    responsive: false,
    animation: false,
    events: [],
    layout: { padding: { left: 0, top: 344, right: 8, bottom: 0 } },
    plugins: {
      legend: { display: false },
      tooltip: { enabled: false },
      frameTicks: { xStep: 1, xMajor: 2, yStep: 0.05, yMajor: 0.2 }
    },
    scales: {
      x: {
        type: 'linear', min: 7495, max: 7507,
        afterBuildTicks: s => { s.ticks = hjdTickLabels.map(v => ({ value: v })); },
        afterFit: s => {
          s.height = 81;
          s.paddingTop = 0; s.paddingBottom = 0; s.paddingLeft = 0; s.paddingRight = 0;
        },
        grid: { display: false, drawTicks: false },
        border: { display: false },
        ticks: { padding: 9, color: INK, font: { size: 26 }, maxRotation: 0, autoSkip: false, callback: v => String(v) },
        title: { display: true, text: 'HJD\u22122450000', color: INK, font: { size: 26 }, padding: { top: 0, bottom: 6 } }
      },
      y: {
        type: 'linear', min: -0.3, max: 0.3,
        afterBuildTicks: s => { s.ticks = resTickLabels.map(v => ({ value: v })); },
        afterFit: yAxisFit,
        grid: { display: false, drawTicks: false },
        border: { display: false },
        ticks: { padding: 17, color: INK, font: { size: 26 }, callback: v => (v < 0 ? '\u2212' + String(-v) : String(v)) },
        title: { display: true, text: 'Residual', color: INK, font: { size: 26 }, padding: { top: 6 } }
      }
    }
  },
  plugins: [errorBars, frameTicks]
});
</script>
</body>
</html>
